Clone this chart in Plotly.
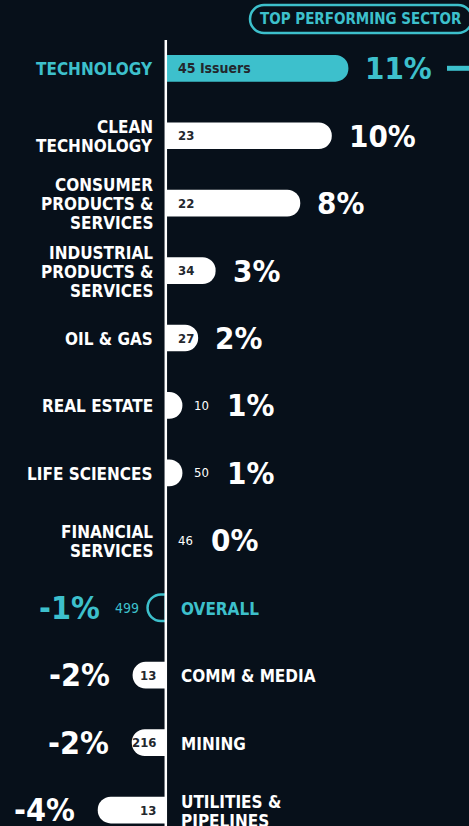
import plotly.graph_objects as go

# ---------------- data ----------------
categories = [
    "TECHNOLOGY", "CLEAN<br>TECHNOLOGY", "CONSUMER<br>PRODUCTS &<br>SERVICES",
    "INDUSTRIAL<br>PRODUCTS &<br>SERVICES", "OIL & GAS", "REAL ESTATE", "LIFE SCIENCES",
    "FINANCIAL<br>SERVICES", "OVERALL", "COMM & MEDIA", "MINING", "UTILITIES &<br>PIPELINES",
]
returns_pct = [11.0, 10.0, 8.1, 3.0, 1.95, 1.0, 1.0, 0.0, -1.1, -2.0, -2.05, -4.1]
return_labels = ["11%", "10%", "8%", "3%", "2%", "1%", "1%", "0%", "-1%", "-2%", "-2%", "-4%"]
issuer_counts = [45, 23, 22, 34, 27, 10, 50, 46, 499, 13, 216, 13]
count_labels = ["45 Issuers", "23", "22", "34", "27", "10", "50", "46", "499", "13", "216", "13"]
highlight = ["TECHNOLOGY", "OVERALL"]
outlined = ["OVERALL"]

# ---------------- style ----------------
W, H = 469, 826
BG = "#07101a"
TEAL = "#3dc0cc"
WHITE = "#ffffff"
DARK = "#23272d"
FONT = "'DejaVu Sans Condensed', 'Liberation Sans Narrow', 'DejaVu Sans', sans-serif"

PX_PER_UNIT = 16.6
ZERO_PX = 165.8
x_range = [-ZERO_PX / PX_PER_UNIT, (W - ZERO_PX) / PX_PER_UNIT]
ROW_PX = 67.43
FIRST_ROW_PX = 68.3
n = len(categories)
y_range = [(n - 1) + (H - FIRST_ROW_PX - (n - 1) * ROW_PX) / ROW_PX, -FIRST_ROW_PX / ROW_PX]

fill_colors = []
line_colors = []
line_widths = []
for c in categories:
    if c in outlined:
        fill_colors.append(BG)
        line_colors.append(TEAL)
        line_widths.append(2.5)
    elif c in highlight:
        fill_colors.append(TEAL)
        line_colors.append(TEAL)
        line_widths.append(0)
    else:
        fill_colors.append(WHITE)
        line_colors.append(WHITE)
        line_widths.append(0)

fig = go.Figure(go.Bar(
    x=returns_pct, y=categories, orientation="h",
    width=0.396,
    marker=dict(color=fill_colors, line=dict(color=line_colors, width=line_widths),
                cornerradius="50%"),
    hoverinfo="skip",
))

ann = []


def add(x, y, text, anchor, xshift, size, color, weight=700, yshift=0):
    ann.append(dict(x=x, y=y, text=text, xanchor=anchor, yanchor="middle", xshift=xshift,
                    yshift=yshift, showarrow=False,
                    font=dict(family=FONT, size=size, color=color, weight=weight)))


LINE_H = 19
for cat, v, cnt, lab in zip(categories, returns_pct, count_labels, return_labels):
    col = TEAL if cat in highlight else WHITE
    lines = cat.split("<br>")
    k = len(lines)
    inside = abs(v) * PX_PER_UNIT > 25
    if v >= 0:
        for j, ln in enumerate(lines):
            add(0, cat, ln, "right", -11, 17, col, yshift=((k - 1) / 2 - j) * LINE_H - 1)
        if inside:
            add(0, cat, cnt, "left", 10, 14 if cat in highlight else 13, DARK, 700)
            add(v, cat, lab, "left", 15, 31, col)
        else:
            add(v, cat, cnt, "left", 10, 13, col, 500)
            add(v, cat, lab, "left", 43, 31, col)
    else:
        for j, ln in enumerate(lines):
            add(0, cat, ln, "left", 13, 17, col, yshift=((k - 1) / 2 - j) * LINE_H - 1)
        if inside:
            add(0, cat, cnt, "right", -8, 13, DARK, 700)
            add(v, cat, lab, "right", -21, 32, col)
        else:
            add(v, cat, cnt, "right", -7, 14, col, 500)
            add(v, cat, lab, "right", -46, 32, col)

# header pill
add(0.769, 1.0, "TOP PERFORMING SECTOR", "center", 0, 15, TEAL)
ann[-1].update(xref="paper", yref="paper", yanchor="middle", yshift=-19)


def P(x, y):
    return f"{x / W:.5f},{1 - y / H:.5f}"


L, R, T, B = 250, 472, 5, 33
r = (B - T) / 2
kk = 0.5523 * r
pill = (f"M {P(L + r, T)} L {P(R - r, T)} "
        f"C {P(R - r + kk, T)} {P(R, T + r - kk)} {P(R, T + r)} "
        f"C {P(R, T + r + kk)} {P(R - r + kk, B)} {P(R - r, B)} "
        f"L {P(L + r, B)} "
        f"C {P(L + r - kk, B)} {P(L, B - r + kk)} {P(L, B - r)} "
        f"C {P(L, B - r - kk)} {P(L + r - kk, T)} {P(L + r, T)} Z")

shapes = [
    dict(type="line", xref="x", yref="paper", x0=0, x1=0, y0=0, y1=1 - 40 / H,
         line=dict(color=WHITE, width=2.5), layer="above"),
    dict(type="path", xref="paper", yref="paper", path=pill,
         line=dict(color=TEAL, width=2.5), fillcolor="rgba(0,0,0,0)"),
    dict(type="line", xref="paper", yref="y", x0=447 / W, x1=1.0, y0=categories[0], y1=categories[0],
         line=dict(color=TEAL, width=5)),
]

fig.update_layout(
    width=W, height=H, autosize=False,
    margin=dict(l=0, r=0, t=0, b=0, pad=0),
    paper_bgcolor=BG, plot_bgcolor=BG,
    showlegend=False,
    xaxis=dict(range=x_range, visible=False, fixedrange=True),
    yaxis=dict(type="category", categoryorder="array", categoryarray=categories,
               range=y_range, visible=False, fixedrange=True),
    annotations=ann, shapes=shapes,
    font=dict(family=FONT),
)

fig.write_html(
    "out.html",
    config={"displayModeBar": False, "staticPlot": True},
    post_script="document.body.style.margin='0';document.body.style.background='" + BG + "';",
)
